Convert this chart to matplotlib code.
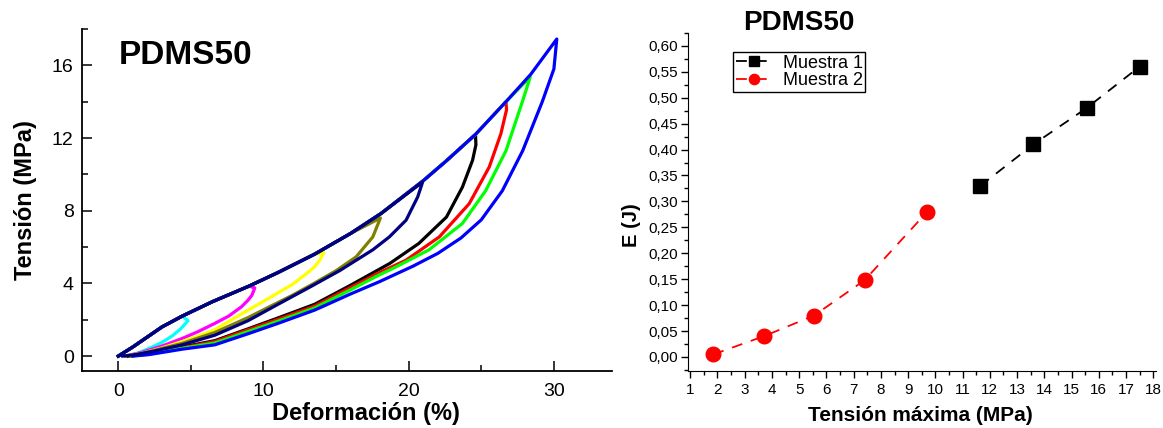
import numpy as np
import matplotlib
matplotlib.use("Agg")
import matplotlib.pyplot as plt
from matplotlib.ticker import MultipleLocator, FuncFormatter

plt.rcParams['font.family'] = ['Liberation Sans', 'DejaVu Sans']

# ---- left panel: hysteresis loops (strain %, stress MPa) ----
# common loading envelope
env_x = np.array([0, 1.0, 2.0, 3.0, 4.4, 6.5, 9.0, 11.0, 13.5, 16.0, 18.1, 21.0, 22.6, 24.6, 26.7, 28.4, 30.2])
env_y = np.array([0, 0.5, 1.05, 1.6, 2.2, 3.0, 3.85, 4.6, 5.6, 6.75, 7.85, 9.65, 10.75, 12.2, 14.0, 15.5, 17.45])

# unloading branches, from the peak down to zero stress
cyan_x = [4.8, 4.3, 3.7, 3.0, 2.2, 1.3, 0.5]
cyan_y = [1.95, 1.5, 1.1, 0.75, 0.45, 0.15, 0.0]
magenta_x = [9.4, 9.2, 8.94, 8.48, 7.6, 6.65, 5.5, 4.4, 3.0, 1.6, 0.5]
magenta_y = [3.75, 3.35, 3.08, 2.71, 2.2, 1.8, 1.35, 0.97, 0.55, 0.2, 0.0]
yellow_x = [14.15, 13.9, 13.5, 12.9, 12.0, 10.4, 8.94, 7.8, 6.65, 5.5, 4.4, 3.0, 1.6, 0.5]
yellow_y = [5.7, 5.3, 4.9, 4.5, 3.95, 3.2, 2.53, 2.0, 1.45, 1.1, 0.8, 0.45, 0.15, 0.0]
olive_x = [18.05, 17.53, 16.38, 15.0, 13.52, 12.0, 10.5, 8.94, 6.65, 4.4, 2.5, 1.2, 0.5]
olive_y = [7.6, 6.56, 5.46, 4.7, 4.02, 3.35, 2.75, 2.12, 1.3, 0.7, 0.32, 0.08, 0.0]
navy_x = [20.96, 20.62, 19.82, 18.67, 17.53, 15.24, 13.2, 11.0, 8.94, 6.65, 4.4, 2.5, 1.2, 0.3]
navy_y = [9.58, 8.76, 7.48, 6.56, 5.85, 4.7, 3.8, 2.85, 1.95, 1.15, 0.62, 0.28, 0.08, 0.0]
black_x = [24.63, 24.4, 23.7, 22.6, 20.7, 18.7, 16.0, 13.52, 11.0, 8.94, 6.65, 4.4, 2.1, 0.7]
black_y = [11.63, 10.78, 9.3, 7.65, 6.2, 5.1, 3.9, 2.85, 2.1, 1.5, 0.85, 0.5, 0.15, 0.0]
red_x = [26.74, 26.35, 25.55, 24.17, 22.11, 19.82, 18.0, 16.0, 13.52, 11.0, 8.94, 6.65, 4.4, 2.1, 0.8]
red_y = [13.56, 12.24, 10.41, 8.39, 6.56, 5.28, 4.6, 3.78, 2.75, 2.02, 1.45, 0.8, 0.46, 0.12, 0.0]
green_x = [28.37, 27.85, 26.7, 25.3, 23.7, 21.4, 19.1, 18.0, 16.0, 13.52, 11.0, 8.94, 6.65, 4.4, 2.1, 0.9]
green_y = [15.36, 14.05, 11.3, 9.1, 7.3, 5.85, 4.9, 4.48, 3.65, 2.65, 1.92, 1.35, 0.72, 0.43, 0.1, 0.0]
blue_x = [30.2, 30.0, 29.2, 27.85, 26.45, 25.0, 23.6, 22.0, 20.3, 18.0, 16.0, 13.52, 11.0, 8.94, 6.65, 4.4, 2.1, 1.0]
blue_y = [17.45, 15.8, 14.0, 11.3, 9.1, 7.5, 6.5, 5.65, 4.95, 4.1, 3.42, 2.53, 1.8, 1.23, 0.62, 0.38, 0.08, 0.0]

# ---- right panel: energy vs max stress ----
m1_x = [11.65, 13.6, 15.55, 17.5]
m1_y = [0.33, 0.41, 0.48, 0.56]
m2_x = [1.85, 3.7, 5.55, 7.4, 9.7]
m2_y = [0.005, 0.04, 0.08, 0.148, 0.28]

fig = plt.figure(figsize=(11.63, 4.28), dpi=100)

# left
ax = fig.add_axes([0.0705, 0.1332, 0.4557, 0.799])
loops = [(cyan_x, cyan_y, '#00ffff'), (magenta_x, magenta_y, '#ff00ff'),
         (yellow_x, yellow_y, '#ffff00'), (olive_x, olive_y, '#808000'),
         (black_x, black_y, 'black'), (red_x, red_y, '#ff0000'),
         (green_x, green_y, '#00ff00'), (blue_x, blue_y, '#0000ff'),
         (navy_x, navy_y, '#000080')]
for ux, uy, c in loops:
    mask = env_x < ux[0]
    lx = np.r_[env_x[mask], ux[0]]
    ly = np.r_[env_y[mask], uy[0]]
    ax.plot(np.r_[lx, ux[1:]], np.r_[ly, uy[1:]], color=c, lw=2.3,
            solid_joinstyle='round')

ax.set_xlim(-2.5, 34)
ax.set_ylim(-0.82, 18)
ax.spines['top'].set_visible(False)
ax.spines['right'].set_visible(False)
for s in ('left', 'bottom'):
    ax.spines[s].set_linewidth(1.3)
ax.xaxis.set_major_locator(MultipleLocator(10))
ax.xaxis.set_minor_locator(MultipleLocator(5))
ax.yaxis.set_major_locator(MultipleLocator(4))
ax.yaxis.set_minor_locator(MultipleLocator(2))
ax.tick_params(which='major', direction='in', length=7, width=1.1, labelsize=14)
ax.tick_params(which='minor', direction='in', length=4, width=1.1)
ax.tick_params(axis='x', which='major', pad=9)
ax.tick_params(axis='y', which='major', pad=6)
ax.set_xlabel('Deformación (%)', fontsize=17, fontweight='bold', va='top')
ax.xaxis.set_label_coords(0.536, -0.092)
ax.set_ylabel('Tensión (MPa)', fontsize=17, fontweight='bold')
ax.yaxis.set_label_coords(-0.085, 0.5)
ax.text(0.07, 0.968, 'PDMS50', transform=ax.transAxes, fontsize=24,
        fontweight='bold', va='top', ha='left')

# right
ax2 = fig.add_axes([0.5916, 0.1332, 0.4024, 0.790])
ax2.plot(m1_x, m1_y, color='black', lw=1.3, ls=(0, (6, 5)), marker='s',
         ms=9.5, mec='black', mfc='black', label='Muestra 1')
ax2.plot(m2_x, m2_y, color='#ff0000', lw=1.3, ls=(0, (6, 5)), marker='o',
         ms=10.5, mec='#ff0000', mfc='#ff0000', label='Muestra 2')
ax2.set_xlim(0.92, 18.1)
ax2.set_ylim(-0.027, 0.625)
ax2.spines['top'].set_visible(False)
ax2.spines['right'].set_visible(False)
ax2.xaxis.set_major_locator(MultipleLocator(1))
ax2.xaxis.set_minor_locator(MultipleLocator(0.5))
ax2.yaxis.set_major_locator(MultipleLocator(0.05))
ax2.yaxis.set_minor_locator(MultipleLocator(0.025))
ax2.yaxis.set_major_formatter(FuncFormatter(lambda v, p: f'{v:.2f}'.replace('.', ',')))
ax2.tick_params(which='major', direction='out', length=5, width=1, labelsize=11)
ax2.tick_params(which='minor', direction='out', length=3, width=1)
ax2.tick_params(axis='y', which='major', pad=2)
ax2.tick_params(axis='x', which='major', pad=4)
ax2.set_xlabel('Tensión máxima (MPa)', fontsize=15, fontweight='bold', va='top')
ax2.xaxis.set_label_coords(0.496, -0.105)
ax2.set_ylabel('E (J)', fontsize=14.5, fontweight='bold')
ax2.yaxis.set_label_coords(-0.1, 0.43)
leg = ax2.legend(loc='upper left', bbox_to_anchor=(0.096, 0.944), fontsize=13,
                 frameon=True, fancybox=False, edgecolor='black', framealpha=1,
                 markerscale=0.7, handlelength=2.0, handletextpad=0.6,
                 labelspacing=0.05, borderpad=0.15, borderaxespad=0)
leg.get_frame().set_linewidth(1.0)
fig.text(799 / 1163, 1 - 23 / 428, 'PDMS50', fontsize=20, fontweight='bold',
         ha='center', va='center')

fig.savefig('out.png', dpi=100)
